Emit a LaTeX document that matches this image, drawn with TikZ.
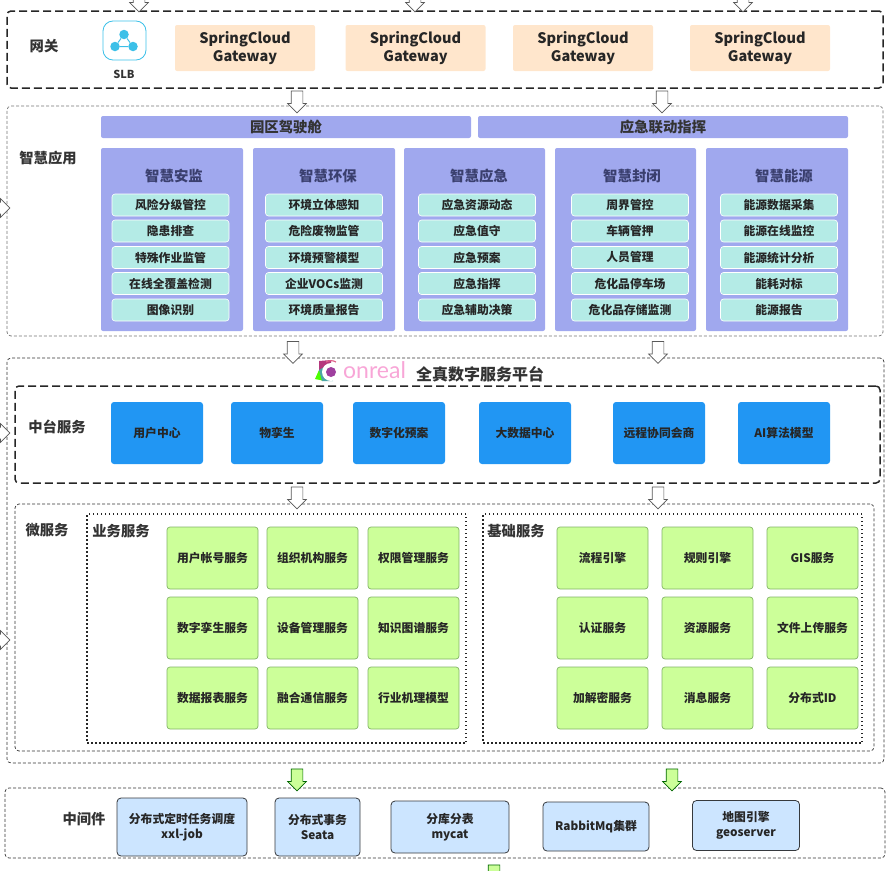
\documentclass[tikz,border=0pt]{standalone}
\usepackage{fontspec}
\setmainfont{Noto Sans CJK SC}
\newfontfamily\logofont{Lato}
\usetikzlibrary{shapes.arrows}
\definecolor{gatefill}{HTML}{FFE6CC}
\definecolor{appfill}{HTML}{A0A8EE}
\definecolor{itemfill}{HTML}{B4EBE6}
\definecolor{midfill}{HTML}{2196F3}
\definecolor{svcfill}{HTML}{CCFF99}
\definecolor{svcline}{HTML}{82B366}
\definecolor{warefill}{HTML}{CCE5FF}
\definecolor{wareline}{HTML}{36393D}
\definecolor{labelcol}{HTML}{333333}
\definecolor{titlecol}{HTML}{3A3F6E}
\definecolor{slbcol}{HTML}{3CC0E8}
\newcommand{\gatetext}{\rule{0pt}{13pt}SpringCloud\\Gateway}
\tikzset{
  lab/.style={text=labelcol,font=\fontsize{14.3}{16}\selectfont\bfseries},
  outerbold/.style={draw=black!85,line width=1.5pt,dash pattern=on 8pt off 4pt,rounded corners=4pt},
  outerthin/.style={draw=black!80,line width=.7pt,dash pattern=on 3pt off 2pt,rounded corners=4pt},
  dotbox/.style={draw=black!85,line width=1.1pt,dash pattern=on 1.5pt off 2.5pt},
  gate/.style={fill=gatefill,rounded corners=2pt,minimum width=140pt,minimum height=46pt,inner sep=0pt,align=center,
    font=\fontsize{14.5}{18}\selectfont\bfseries,text=black!85},
  bar/.style={fill=appfill,rounded corners=2pt,minimum width=370pt,minimum height=22pt,inner sep=0pt,
    font=\fontsize{14.4}{16}\selectfont\bfseries,text=black!80},
  col/.style={fill=appfill,rounded corners=2pt,minimum width=142pt,minimum height=183pt,inner sep=0pt},
  coltitle/.style={text=titlecol,font=\fontsize{14.4}{16}\selectfont\bfseries},
  item/.style={fill=itemfill,draw=white,line width=.6pt,rounded corners=3pt,minimum width=117pt,minimum height=22pt,inner sep=0pt,
    font=\fontsize{11.8}{13}\selectfont\bfseries,text=black!85},
  mid/.style={fill=midfill,rounded corners=3pt,minimum width=92pt,minimum height=62pt,inner sep=0pt,
    font=\fontsize{11.8}{13}\selectfont\bfseries,text=black!85},
  svc/.style={fill=svcfill,draw=svcline,line width=.7pt,rounded corners=3pt,minimum width=91pt,minimum height=62pt,inner sep=0pt,
    font=\fontsize{11.8}{13}\selectfont\bfseries,text=black!85},
  ware/.style={fill=warefill,draw=wareline,line width=.8pt,rounded corners=4pt,inner sep=0pt,align=center,
    font=\fontsize{11.8}{15}\selectfont\bfseries,text=black!85},
  blockarrow/.style={single arrow,draw=black!65,fill=white,line width=.7pt,minimum height=22pt,
    single arrow head extend=3.5pt,inner xsep=0pt,inner ysep=5.5pt,rotate=-90},
  greenarrow/.style={blockarrow,draw=black!60!green,fill=svcfill},
  slbdot/.style={circle,fill=slbcol,minimum size=9.5pt,inner sep=0pt}
}
\begin{document}
\begin{tikzpicture}[x=1pt,y=-1pt]
\useasboundingbox (0,0) rectangle (890,870);
\clip (0,0) rectangle (890,870);

% gateway
\node[outerbold,minimum width=876pt,minimum height=77pt] (gatewaybox) at (445,49.5) {};
\node[lab] (gatewaylab) at (44,46) {网关};
\node[draw=slbcol,line width=.8pt,rounded corners=10pt,minimum width=43pt,minimum height=39pt] (slbicon) at (124.5,40.5) {};
\node[slbdot] (slbtop) at (124,34.5) {};
\node[slbdot] (slbleft) at (115,46.5) {};
\node[slbdot] (slbright) at (133,46.5) {};
\draw[slbcol,line width=1pt] (slbtop) -- (slbleft) -- (slbright) -- (slbtop);
\node[text=labelcol,font=\fontsize{11}{12}\selectfont\bfseries] (slblab) at (124,74.5) {SLB};
\node[gate] (gateA) at (245,48) {\gatetext};
\node[gate] (gateB) at (415.5,48) {\gatetext};
\node[gate] (gateC) at (583,48) {\gatetext};
\node[gate] (gateD) at (760,48) {\gatetext};

% smart applications
\node[outerthin,draw=black!55,minimum width=876pt,minimum height=230pt] (appbox) at (445,221) {};
\node[lab] (applab) at (48,158) {智慧应用};
\node[bar] (barA) at (286,127) {园区驾驶舱};
\node[bar] (barB) at (663,127) {应急联动指挥};

\node[col] (colA) at (172,239.5) {};
\node[coltitle] (titleA) at (174,176) {智慧安监};
\node[item] (itemAa) at (170.5,205) {风险分级管控};
\node[item] (itemAb) at (170.5,231) {隐患排查};
\node[item] (itemAc) at (170.5,257.5) {特殊作业监管};
\node[item] (itemAd) at (170.5,283.5) {在线全覆盖检测};
\node[item] (itemAe) at (170.5,310) {图像识别};

\node[col] (colB) at (324,239.5) {};
\node[coltitle] (titleB) at (328,176) {智慧环保};
\node[item] (itemBa) at (324,205) {环境立体感知};
\node[item] (itemBb) at (324,231) {危险废物监管};
\node[item] (itemBc) at (324,257.5) {环境预警模型};
\node[item] (itemBd) at (324,283.5) {企业VOCs监测};
\node[item] (itemBe) at (324,310) {环境质量报告};

\node[col,minimum width=141pt] (colC) at (474.5,239.5) {};
\node[coltitle] (titleC) at (479,176) {智慧应急};
\node[item] (itemCa) at (477,205) {应急资源动态};
\node[item] (itemCb) at (477,231) {应急值守};
\node[item] (itemCc) at (477,257.5) {应急预案};
\node[item] (itemCd) at (477,283.5) {应急指挥};
\node[item] (itemCe) at (477,310) {应急辅助决策};

\node[col,minimum width=141pt] (colD) at (625.5,239.5) {};
\node[coltitle] (titleD) at (632,176) {智慧封闭};
\node[item] (itemDa) at (630,205) {周界管控};
\node[item] (itemDb) at (630,231) {车辆管押};
\node[item] (itemDc) at (630,257.5) {人员管理};
\node[item] (itemDd) at (630,283.5) {危化品停车场};
\node[item] (itemDe) at (630,310) {危化品存储监测};

\node[col] (colE) at (777,239.5) {};
\node[coltitle] (titleE) at (784,176) {智慧能源};
\node[item] (itemEa) at (779,205) {能源数据采集};
\node[item] (itemEb) at (779,231) {能源在线监控};
\node[item] (itemEc) at (779,257.5) {能源统计分析};
\node[item] (itemEd) at (779,283.5) {能耗对标};
\node[item] (itemEe) at (779,310) {能源报告};

% platform
\node[outerthin,minimum width=877pt,minimum height=405pt] (platbox) at (445.5,560.5) {};
\fill[magenta!70!black] (319,361) -- (331,360) -- (331,368) -- (322,381) -- (319,375) -- cycle;
\fill[green!70!yellow] (315,379) -- (319,370) -- (325,381) -- cycle;
\fill[teal!70] (319,370) -- (326,366) -- (333,381) -- (322,381) -- cycle;
\fill[white] (331,372) circle (9);
\draw[magenta!40!purple!70,line width=1.2pt] (336,362) arc (-60:-120:10);
\fill[violet!75] (331,372) circle (5);
\node[text=magenta!35,font=\logofont\fontsize{23}{23}\selectfont,inner sep=0pt,anchor=west] (logolab) at (343,370) {onreal};
\node[text=labelcol,font=\fontsize{16}{18}\selectfont\bfseries] (platlab) at (480,374) {全真数字服务平台};

% middle platform services
\node[outerbold,minimum width=865pt,minimum height=97pt] (midbox) at (447.5,434.5) {};
\node[lab] (midlab) at (57,427) {中台服务};
\node[mid] (midA) at (157,433) {用户中心};
\node[mid] (midB) at (277,433) {物孪生};
\node[mid] (midC) at (399,433) {数字化预案};
\node[mid] (midD) at (525,433) {大数据中心};
\node[mid] (midE) at (659,433) {远程协同会商};
\node[mid] (midF) at (784,433) {AI算法模型};

% micro services
\node[outerthin,minimum width=859pt,minimum height=247pt] (microbox) at (444.5,627.5) {};
\node[lab] (microlab) at (47,530) {微服务};
\node[dotbox,minimum width=379pt,minimum height=229pt] (bizbox) at (276.5,628.5) {};
\node[lab] (bizlab) at (121,531) {业务服务};
\node[svc] (bizAa) at (212.5,558) {用户帐号服务};
\node[svc] (bizAb) at (312.5,558) {组织机构服务};
\node[svc] (bizAc) at (413.5,558) {权限管理服务};
\node[svc] (bizBa) at (212.5,628) {数字孪生服务};
\node[svc] (bizBb) at (312.5,628) {设备管理服务};
\node[svc] (bizBc) at (413.5,628) {知识图谱服务};
\node[svc] (bizCa) at (212.5,698) {数据报表服务};
\node[svc] (bizCb) at (312.5,698) {融合通信服务};
\node[svc] (bizCc) at (413.5,698) {行业机理模型};

\node[dotbox,minimum width=379pt,minimum height=229pt] (basebox) at (672.5,628.5) {};
\node[lab] (baselab) at (516,531) {基础服务};
\node[svc] (baseAa) at (602.5,558) {流程引擎};
\node[svc] (baseAb) at (707.5,558) {规则引擎};
\node[svc] (baseAc) at (812.5,558) {GIS服务};
\node[svc] (baseBa) at (602.5,628) {认证服务};
\node[svc] (baseBb) at (707.5,628) {资源服务};
\node[svc] (baseBc) at (812.5,628) {文件上传服务};
\node[svc] (baseCa) at (602.5,698) {加解密服务};
\node[svc] (baseCb) at (707.5,698) {消息服务};
\node[svc] (baseCc) at (812.5,698) {分布式ID};

% middleware
\node[outerthin,minimum width=880pt,minimum height=70pt] (warebox) at (445,823) {};
\node[lab] (warelab) at (84,819) {中间件};
\node[ware,minimum width=130pt,minimum height=58pt] (wareA) at (182,827) {分布式定时任务调度\\xxl-job};
\node[ware,minimum width=85pt,minimum height=58pt] (wareB) at (317.5,827) {分布式事务\\Seata};
\node[ware,minimum width=118pt,minimum height=52pt] (wareC) at (450,827) {分库分表\\mycat};
\node[ware,minimum width=106pt,minimum height=49pt] (wareD) at (596,826.5) {RabbitMq集群};
\node[ware,minimum width=107pt,minimum height=50pt] (wareE) at (746,825.5) {地图引擎\\geoserver};

% arrows
\node[blockarrow] (arrowTopA) at (139,-2) {};
\node[blockarrow] (arrowTopB) at (415,-2) {};
\node[blockarrow] (arrowTopC) at (743,-2) {};
\node[blockarrow] (arrowGateA) at (297,99) {};
\node[blockarrow] (arrowGateB) at (662,99) {};
\node[blockarrow] (arrowAppA) at (293,349.5) {};
\node[blockarrow] (arrowAppB) at (658,349.5) {};
\node[blockarrow] (arrowMidA) at (297,495) {};
\node[blockarrow] (arrowMidB) at (658,495) {};
\node[greenarrow] (arrowWareA) at (297,777) {};
\node[greenarrow] (arrowWareB) at (672,777) {};
\node[greenarrow] (arrowDown) at (494,873) {};
\node[blockarrow,rotate=90] (arrowLeftA) at (-4,208) {};
\node[blockarrow,rotate=90] (arrowLeftB) at (-4,433) {};
\node[blockarrow,rotate=90] (arrowLeftC) at (-4,640) {};
\end{tikzpicture}
\end{document}
